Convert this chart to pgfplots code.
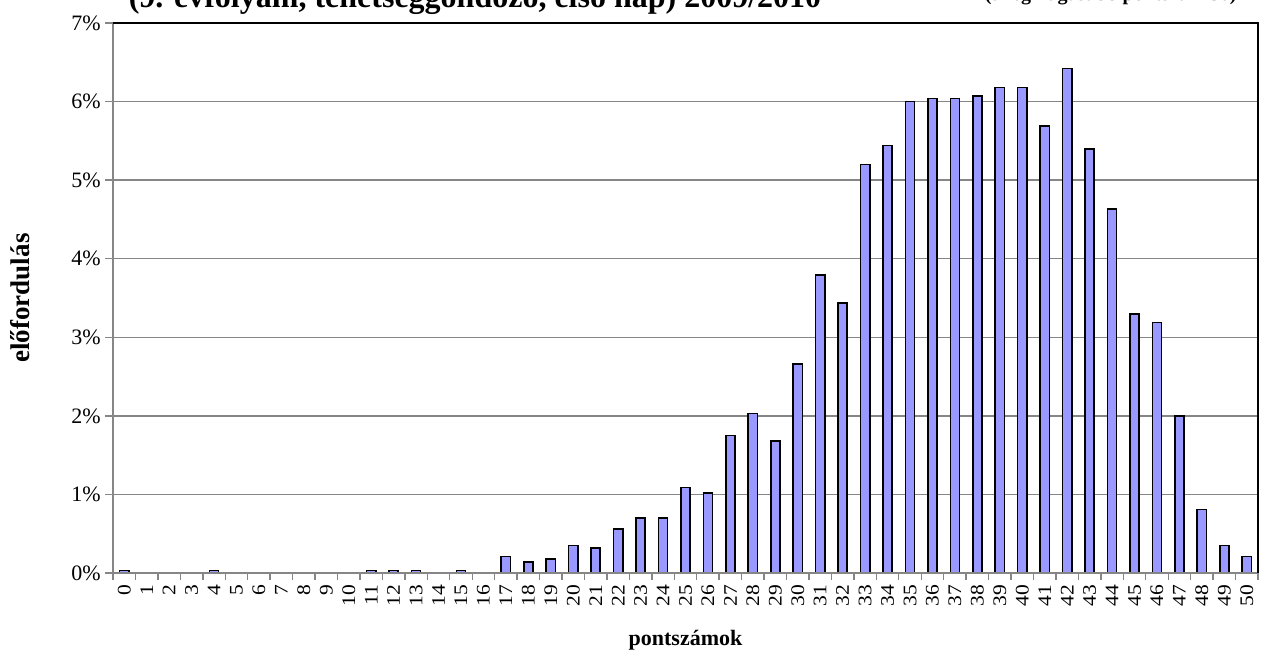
\documentclass[border=0pt]{standalone}
\usepackage{pgfplots}
\pgfplotsset{compat=1.18}
\usepackage{fontspec}
\setmainfont{Liberation Serif}
\definecolor{barblue}{RGB}{153,153,255}
\definecolor{gridgray}{RGB}{134,134,134}
\begin{document}
\begin{tikzpicture}
\useasboundingbox (-56.5pt,-47.5pt) rectangle (575pt,286.5pt);
\clip (-56.5pt,-47.5pt) rectangle (575pt,286.5pt);
\begin{axis}[
  at={(0pt,0pt)}, anchor=south west,
  scale only axis, width=572.5pt, height=275pt,
  xmin=-0.5, xmax=50.5, ymin=0, ymax=7,
  ybar, bar width=4.6pt,
  axis line style={draw=none},
  xtick pos=bottom, ytick pos=left,
  ytick={0,1,...,7},
  yticklabel={\pgfmathprintnumber{\tick}\%},
  /pgf/number format/assume math mode=true,
  ymajorgrids, grid style={gridgray, line width=0.7pt},
  xtick={0,1,...,50},
  minor xtick={-0.5,0.5,...,50.5},
  tick align=outside,
  major tick length=4pt, minor tick length=3.5pt,
  every major x tick/.append style={draw=none},
  every minor x tick/.append style={gridgray, line width=0.7pt},
  every major y tick/.append style={gridgray, line width=0.7pt},
  xticklabel style={rotate=90, anchor=east, font=\fontsize{9.6}{10}\selectfont, xscale=1.12, inner sep=1.5pt},
  yticklabel style={font=\fontsize{11}{12}\selectfont, inner sep=2pt},
  xlabel={pontszámok},
  ylabel={előfordulás},
  xlabel style={at={(axis description cs:0.5,-0.122)}, anchor=center, font=\bfseries\fontsize{11}{12}\selectfont},
  ylabel style={at={(axis description cs:-0.081,0.5)}, anchor=center, font=\bfseries\fontsize{13.5}{15}\selectfont},
  clip=false,
]
\addplot[draw=black, fill=barblue, line width=0.8pt] coordinates {
(0,0.03) (4,0.03) (11,0.03) (12,0.03) (13,0.03) (15,0.03)
(17,0.21) (18,0.14) (19,0.18) (20,0.35) (21,0.32) (22,0.56) (23,0.70) (24,0.70)
(25,1.09) (26,1.02) (27,1.75) (28,2.03) (29,1.68) (30,2.66) (31,3.79) (32,3.44)
(33,5.20) (34,5.44) (35,6.00) (36,6.04) (37,6.04) (38,6.07) (39,6.18) (40,6.18)
(41,5.69) (42,6.42) (43,5.40) (44,4.63) (45,3.30) (46,3.19) (47,2.00) (48,0.81)
(49,0.35) (50,0.21)
};
\draw[gridgray, line width=1pt] (rel axis cs:0,1) -- (rel axis cs:0,0) -- (rel axis cs:1,0);
\draw[black, line width=1.1pt] (rel axis cs:0,1) -- (rel axis cs:1,1) -- (rel axis cs:1,0);
\end{axis}
\node[anchor=base, font=\bfseries\fontsize{16}{18}\selectfont, inner sep=0pt] at (181pt,282.5pt) {(9. évfolyam, tehetséggondozó, első nap) 2009/2010};
\node[anchor=base east, font=\bfseries\fontsize{10}{12}\selectfont, inner sep=0pt] at (562pt,286pt) {(a legmagasabb pontszám 50)};
\end{tikzpicture}
\end{document}
